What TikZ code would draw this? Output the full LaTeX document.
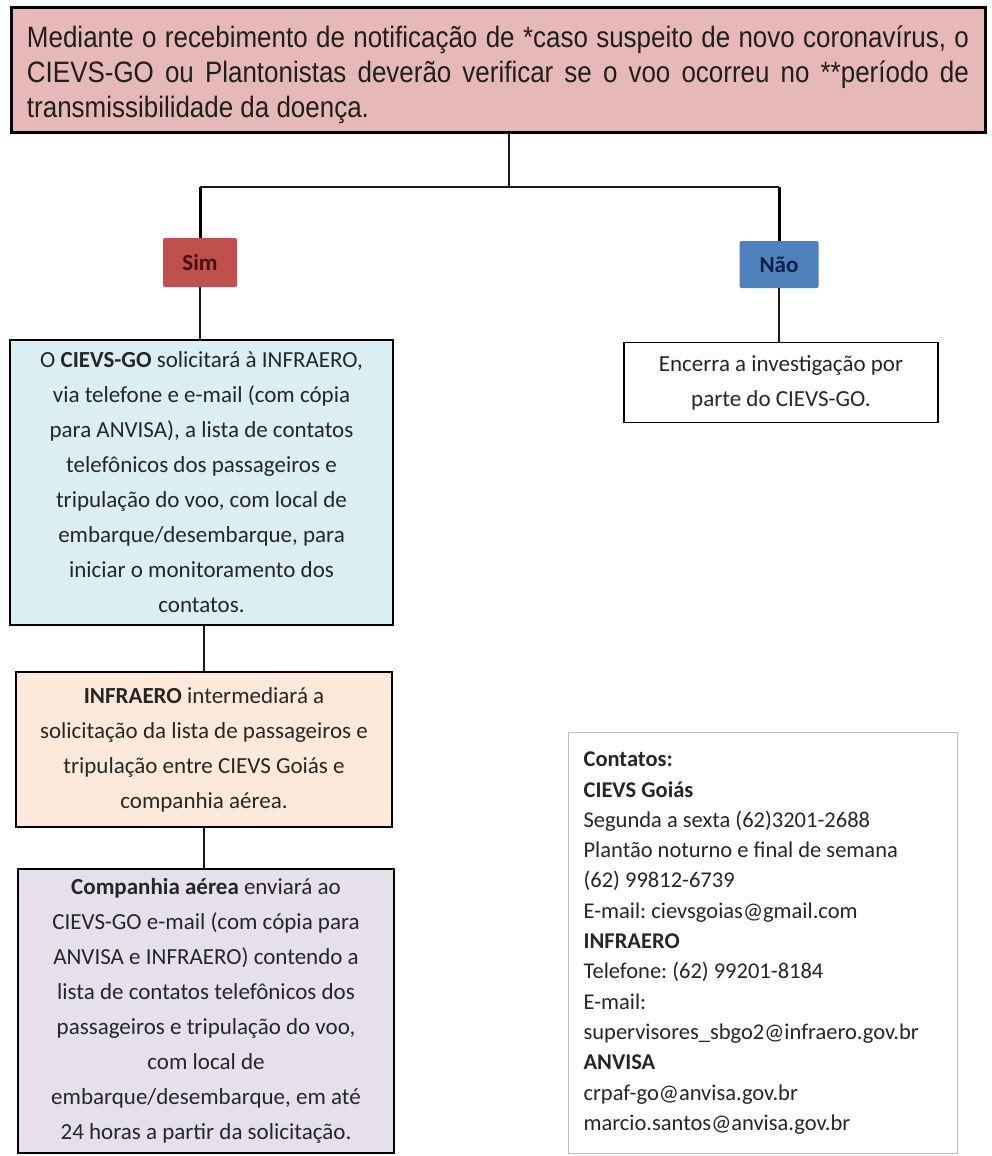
\documentclass[tikz,border=0pt]{standalone}
\usepackage{fontspec}
\setmainfont{Carlito}
\newfontfamily\topfont[FakeStretch=0.88]{Liberation Sans}
\frenchspacing
\definecolor{toppink}{HTML}{E6B9B8}
\definecolor{simred}{HTML}{C0504D}
\definecolor{naoblue}{HTML}{4F81BD}
\definecolor{lightblue}{HTML}{DBEEF4}
\definecolor{peach}{HTML}{FDE9D9}
\definecolor{lavender}{HTML}{E5E0EC}
\definecolor{txt}{HTML}{262626}
\definecolor{simtxt}{HTML}{4A0E0E}
\definecolor{naotxt}{HTML}{0F1F4A}
\definecolor{contactborder}{HTML}{BFBFBF}
\begin{document}
\begin{tikzpicture}[x=1pt,y=-1pt,
  topbox/.style={draw=black, line width=3pt, fill=toppink, inner sep=0pt,
    text width=942pt, align=justify, minimum width=974pt, minimum height=124pt,
    font=\topfont\fontsize{29.5}{35}\selectfont, text=black!88},
  flowbox/.style={draw=black, line width=1.5pt, inner sep=0pt, align=center,
    font=\fontsize{23}{35}\selectfont, text=txt},
  tag/.style={rounded corners=2pt, inner sep=0pt, align=center,
    font=\bfseries\fontsize{23}{27}\selectfont},
  conn/.style={draw=black!90, line width=1.5pt},
  branch/.style={draw=black, line width=3pt},
  contactbox/.style={draw=contactborder, line width=1.2pt, fill=white, inner xsep=15pt, inner ysep=0pt,
    align=flush left, text width=359pt, minimum height=421pt,
    font=\fontsize{22.5}{30.3}\selectfont, text=txt, anchor=north west}
]
\useasboundingbox (0,0) rectangle (991,1156);
\fill[white] (0,0) rectangle (991,1156);

\node[topbox] (top) at (498,70) {Mediante o recebimento de notificação de *caso suspeito de novo coronavírus, o\linebreak CIEVS-GO ou Plantonistas deverão verificar se o voo ocorreu no **período de\linebreak transmissibilidade da doença.\par\vspace*{-10pt}};

\node[tag, fill=simred, text=simtxt, minimum width=74pt, minimum height=49pt] (sim) at (200,262.5) {Sim};
\node[tag, fill=naoblue, text=naotxt, minimum width=79pt, minimum height=47pt] (nao) at (779,264.5) {Não};

\node[flowbox, fill=lightblue, minimum width=383pt, minimum height=285pt] (blue) at (201.5,482.5)
 {O \textbf{CIEVS-GO} solicitará à INFRAERO,\\ via telefone e e-mail (com cópia\\ para ANVISA), a lista de contatos\\ telefônicos dos passageiros e\\ tripulação do voo, com local de\\ embarque/desembarque, para\\ iniciar o monitoramento dos\\ contatos.};

\node[flowbox, fill=white, minimum width=314pt, minimum height=80pt] (enc) at (781,382.5)
 {Encerra a investigação por\\ parte do CIEVS-GO.};

\node[flowbox, fill=peach, minimum width=376pt, minimum height=155pt] (infra) at (204,749.5)
 {\textbf{INFRAERO} intermediará a\\ solicitação da lista de passageiros e\\ tripulação entre CIEVS Goiás e\\ companhia aérea.};

\node[flowbox, fill=lavender, minimum width=376pt, minimum height=284pt] (comp) at (206,1011)
 {\textbf{Companhia aérea} enviará ao\\ CIEVS-GO e-mail (com cópia para\\ ANVISA e INFRAERO) contendo a\\ lista de contatos telefônicos dos\\ passageiros e tripulação do voo,\\ com local de\\ embarque/desembarque, em até\\ 24 horas a partir da solicitação.};

\node[contactbox] (cont) at (568,732)
 {\spaceskip=0pt\xspaceskip=0pt\relax
  \textbf{Contatos:}\\
  \textbf{CIEVS Goiás}\\
  Segunda a sexta (62)3201-2688\\
  Plantão noturno e final de semana\\
  (62) 99812-6739\\
  E-mail: cievsgoias@gmail.com\\
  \textbf{INFRAERO}\\
  Telefone: (62) 99201-8184\\
  E-mail:\\
  supervisores\_sbgo2@infraero.gov.br\\
  \textbf{ANVISA}\\
  crpaf-go@anvisa.gov.br\\
  marcio.santos@anvisa.gov.br};

\coordinate (j) at (509,187);
\draw[conn, line width=2pt] (top.south -| j) -- (j);
\draw[conn, line width=2pt] (j -| sim.north) -- (j -| nao.north);
\draw[branch] (j -| sim.north) -- (sim.north);
\draw[branch] (j -| nao.north) -- (nao.north);
\draw[conn] (sim.south) -- (sim.south |- blue.north);
\draw[conn] (nao.south) -- (nao.south |- enc.north);
\draw[conn] (blue.south -| infra.north) -- (infra.north);
\draw[conn] (infra.south) -- (infra.south |- comp.north);
\end{tikzpicture}
\end{document}
